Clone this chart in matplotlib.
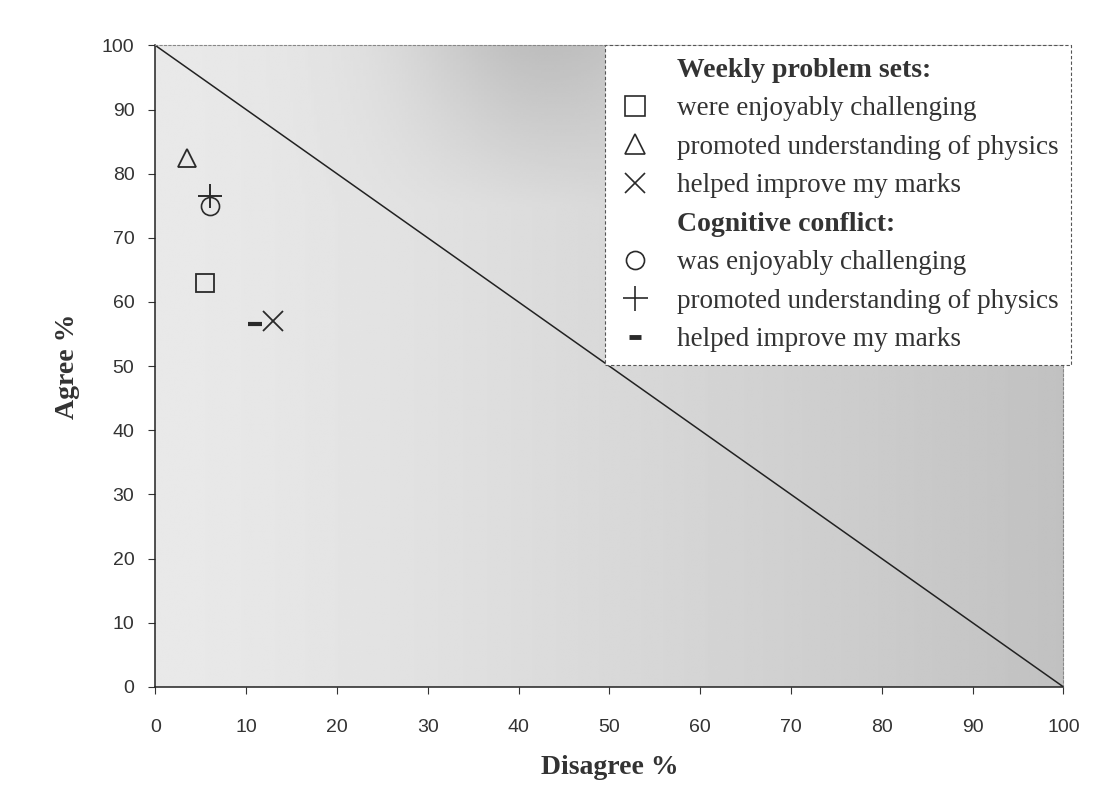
import numpy as np
import matplotlib
matplotlib.use("Agg")
import matplotlib.pyplot as plt
from matplotlib.lines import Line2D

# ---- data ----
weekly_labels = ["were enjoyably challenging",
                 "promoted understanding of physics",
                 "helped improve my marks"]
weekly_disagree = [5.5, 3.5, 13.0]
weekly_agree = [63.0, 82.5, 57.0]

cc_labels = ["was enjoyably challenging",
             "promoted understanding of physics",
             "helped improve my marks"]
cc_disagree = [6.0, 6.0, 11.0]
cc_agree = [75.0, 76.5, 56.5]

diag_x = [0, 100]
diag_y = [100, 0]

x_ticks = [0, 10, 20, 30, 40, 50, 60, 70, 80, 90, 100]
y_ticks = [0, 10, 20, 30, 40, 50, 60, 70, 80, 90, 100]

# ---- figure ----
fig = plt.figure(figsize=(11.17, 8.10), dpi=100)
fig.patch.set_facecolor("white")
ax = fig.add_axes([0.139, 0.152, 0.813, 0.792])

# gradient background
gx, gy = np.meshgrid(np.linspace(0, 100, 300), np.linspace(0, 100, 300))
g = 233 - 40 * (gx / 100) ** 1.3
g -= 30 * np.clip((gy - 75) / 25, 0, 1) * np.exp(-((gx - 42) / 14) ** 2)
g = np.clip(g, 0, 255) / 255.0
ax.imshow(g, extent=[0, 100, 0, 100], origin="lower", cmap="gray",
          vmin=0, vmax=1, aspect="auto", zorder=0, interpolation="bilinear")

ax.plot(diag_x, diag_y, color="#222222", lw=1.1, zorder=2)

mk = dict(color="#2a2a2a", linestyle="none", zorder=3)
weekly_markers = ["s", "^", "x"]
weekly_sizes = [13, 13, 15]
cc_markers = ["o", "+", "_"]
cc_sizes = [13, 17, 10]
cc_mew = [1.2, 1.4, 3.0]

for i in range(3):
    ax.plot(weekly_disagree[i], weekly_agree[i], marker=weekly_markers[i],
            ms=weekly_sizes[i], mfc="none", mew=1.3, **mk)
for i in range(3):
    ax.plot(cc_disagree[i], cc_agree[i], marker=cc_markers[i],
            ms=cc_sizes[i], mfc="none", mew=cc_mew[i], **mk)

ax.set_xlim(0, 100)
ax.set_ylim(0, 100)
ax.set_xticks(x_ticks)
ax.set_yticks(y_ticks)
ax.set_xticklabels([str(t) for t in x_ticks], fontfamily="Liberation Sans",
                   fontsize=14, color="#333333")
ax.set_yticklabels([str(t) for t in y_ticks], fontfamily="Liberation Sans",
                   fontsize=14, color="#333333")
ax.tick_params(axis="both", direction="out", length=5, width=0.8,
               color="#333333")
ax.tick_params(axis="x", pad=18)
ax.tick_params(axis="y", pad=10)

for s in ["left", "bottom"]:
    ax.spines[s].set_color("#222222")
    ax.spines[s].set_linewidth(1.1)
for s in ["top", "right"]:
    ax.spines[s].set_color("#888888")
    ax.spines[s].set_linestyle((0, (2, 2)))
    ax.spines[s].set_linewidth(0.8)

ax.set_xlabel("Disagree %", fontfamily="Liberation Serif", fontweight="bold",
              fontsize=20, color="#333333", labelpad=14)
ax.set_ylabel("Agree %", fontfamily="Liberation Serif", fontweight="bold",
              fontsize=20, color="#333333", labelpad=16)

# legend
blank = Line2D([], [], linestyle="none", marker="none")
handles = [blank]
labels = ["Weekly problem sets:"]
for i in range(3):
    handles.append(Line2D([], [], marker=weekly_markers[i], ms=15, mfc="none",
                          mew=1.2, color="#2a2a2a", linestyle="none"))
    labels.append(weekly_labels[i])
handles.append(blank)
labels.append("Cognitive conflict:")
for i in range(3):
    handles.append(Line2D([], [], marker=cc_markers[i], ms=[13, 18, 9][i],
                          mfc="none", mew=[1.2, 1.2, 3.5][i], color="#2a2a2a",
                          linestyle="none"))
    labels.append(cc_labels[i])

leg = ax.legend(handles, labels, loc="upper right",
                bbox_to_anchor=(1.008, 1.0), frameon=True, fancybox=False,
                framealpha=1.0, facecolor="white", edgecolor="#555555",
                prop={"family": "Liberation Serif", "size": 19.5},
                labelspacing=0.5, handlelength=1.3, handletextpad=0.9,
                borderpad=0.45, borderaxespad=0.0)
leg.get_frame().set_linewidth(0.8)
leg.get_frame().set_linestyle((0, (3, 2)))
for t in leg.get_texts():
    t.set_color("#333333")
    if t.get_text().endswith(":"):
        t.set_fontweight("bold")
        t.set_fontsize(20)
leg.set_zorder(5)

fig.savefig("out.png", dpi=100)
